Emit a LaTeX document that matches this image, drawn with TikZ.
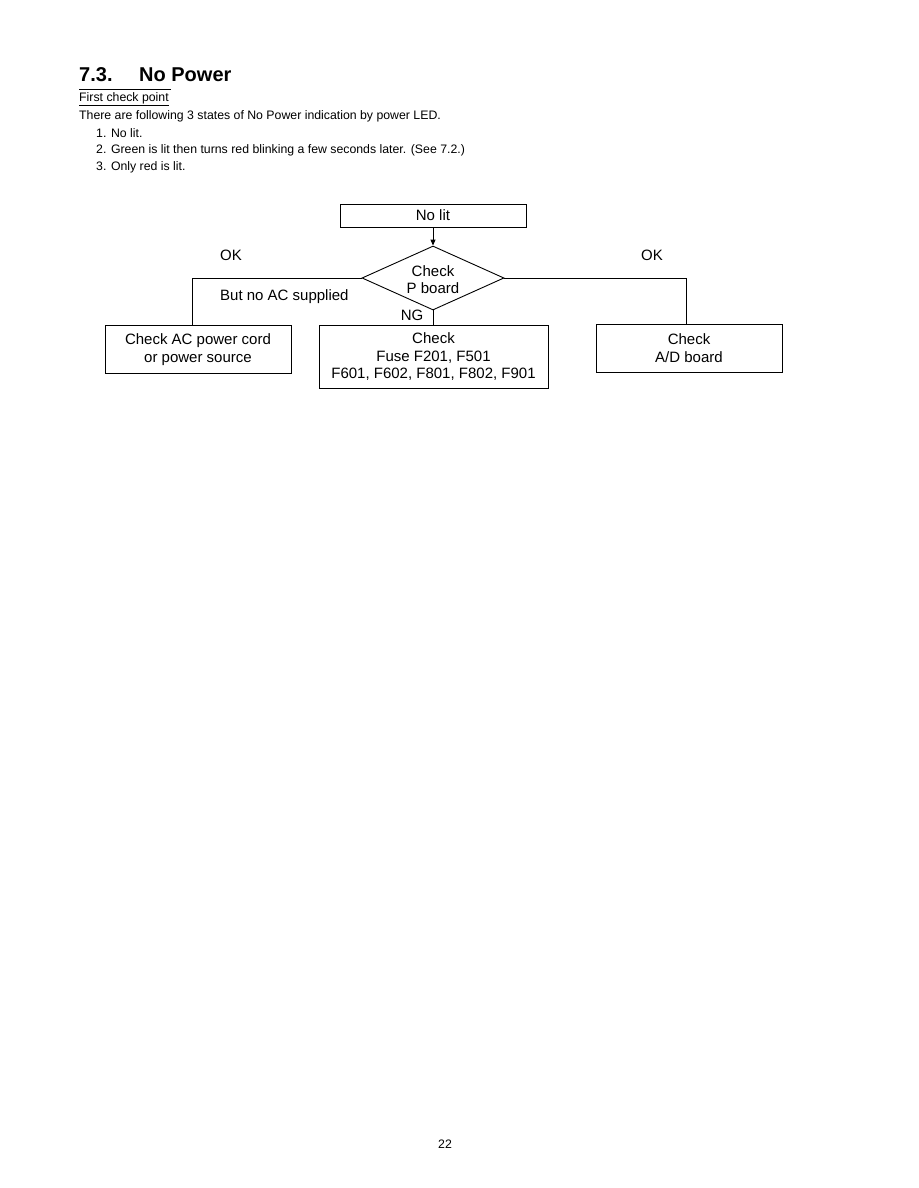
\documentclass[tikz,border=0pt]{standalone}
\usepackage{fontspec}
\setmainfont{Liberation Sans}
\usetikzlibrary{shapes.geometric,arrows.meta}
\begin{document}
\begin{tikzpicture}[x=1pt,y=-1pt,
  box/.style={draw,line width=0.9pt,inner sep=0pt,font=\fontsize{15}{17.5}\selectfont,align=center},
  lbl/.style={inner sep=0pt,font=\fontsize{15}{17.5}\selectfont},
  body/.style={inner sep=0pt,anchor=west,font=\fontsize{12.3}{14}\selectfont},
  conn/.style={line width=0.9pt}]
\useasboundingbox[fill=white] (0,0) rectangle (918,1188);
% header
\node[inner sep=0pt,anchor=base west,font=\fontsize{20}{22}\selectfont\bfseries] (title) at (79,82) {7.3.};
\node[inner sep=0pt,anchor=base west,font=\fontsize{20}{22}\selectfont\bfseries] (title2) at (139,82) {No Power};
\draw[line width=0.8pt] (79,89.5) -- (171,89.5);
\node[body] (fcp) at (79,99) {\underline{First check point}};
\node[body] (intro) at (79,116.5) {There are following 3 states of No Power indication by power LED.};
\node[body] (l1) at (96,133) {1. No lit.};
\node[body] (l2) at (96,150) {2. Green is lit then turns red blinking a few seconds later. (See 7.2.)};
\node[body] (l3) at (96,167) {3. Only red is lit.};
% flowchart
\node[box,minimum width=186,minimum height=23] (nolit) at (433,215.5) {No lit};
\node[draw,line width=0.9pt,diamond,aspect=2.22,minimum width=142,minimum height=64,inner sep=0pt] (pb) at (433,278) {};
\node[lbl] (pbt1) at (433,271) {Check};
\node[lbl] (pbt2) at (433,288.5) {P board};
\node[box,minimum width=186,minimum height=48] (ac) at (198,349.5) {Check AC power cord\\or power source};
\node[box,minimum width=229,minimum height=63] (fuse) at (433.5,357) {Check\\Fuse F201, F501\\F601, F602, F801, F802, F901};
\node[box,minimum width=186,minimum height=48] (ad) at (689,348) {Check\\A/D board};
\draw[conn,-{Triangle[length=6pt,width=5pt]}] (nolit.south -| pb.north) -- (pb.north);
\draw[conn] (pb.west) -| (ac.north -| 192,0);
\draw[conn] (pb.south) -- (fuse.north -| pb.south);
\draw[conn] (pb.east) -| (ad.north -| 686,0);
\node[lbl] (okl) at (231,255.5) {OK};
\node[lbl] (okr) at (652,255.5) {OK};
\node[lbl,anchor=west] (noac) at (220,296.5) {But no AC supplied};
\node[lbl] (ng) at (412,315.5) {NG};
\node[inner sep=0pt,font=\fontsize{12.3}{14}\selectfont] (page) at (445,1144) {22};
\end{tikzpicture}
\end{document}
